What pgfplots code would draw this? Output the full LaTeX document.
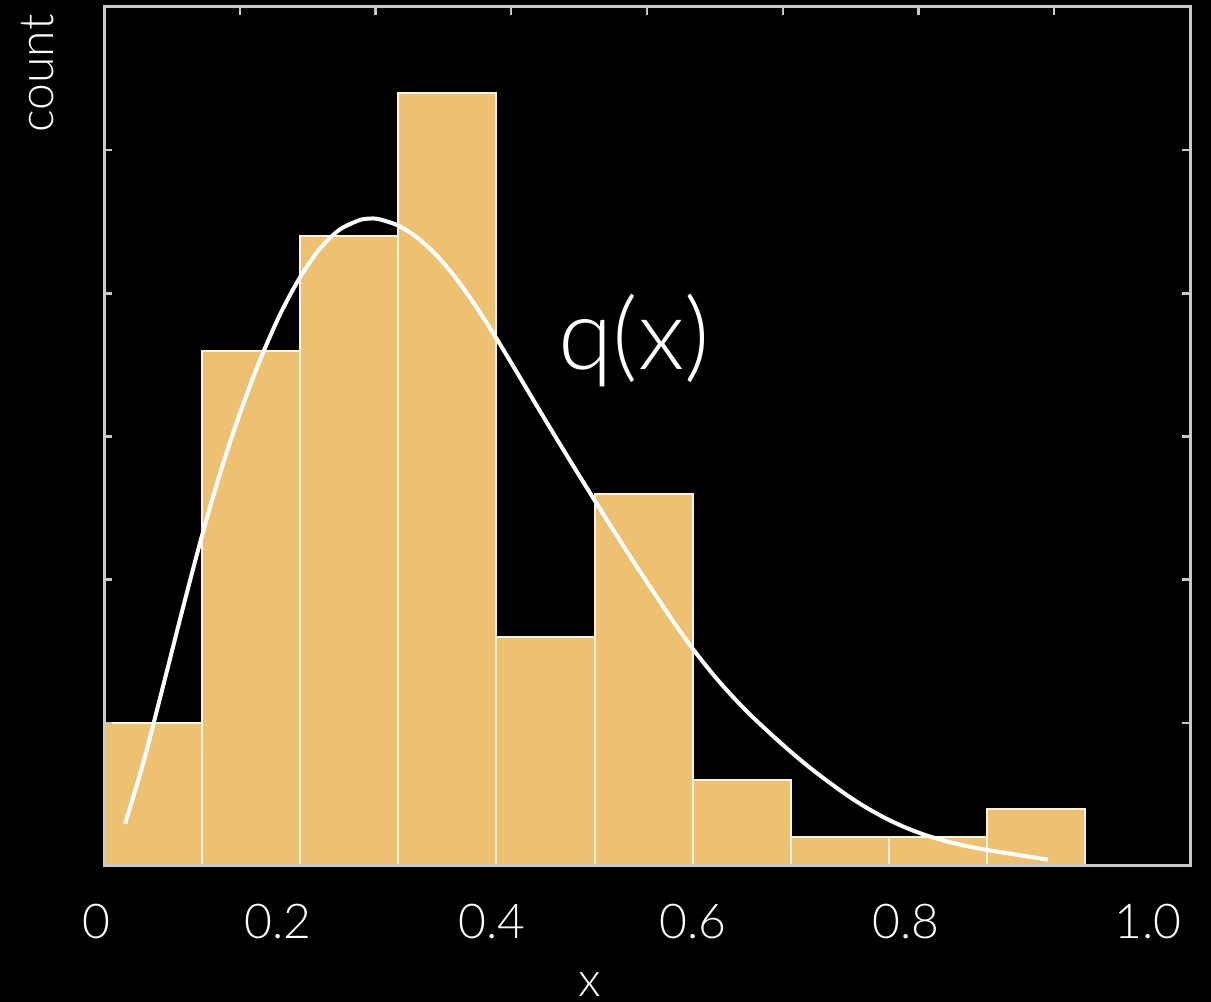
\documentclass[border=0pt]{standalone}
\usepackage{fontspec}
\setmainfont{Lato}[UprightFont={* Light}]
\usepackage{pgfplots}
\pgfplotsset{compat=1.18}
\definecolor{barfill}{HTML}{EDC171}
\definecolor{baredge}{HTML}{FFF3DC}
\definecolor{axisgray}{HTML}{C8C8C8}
\begin{document}
\begin{tikzpicture}
\useasboundingbox (0pt,0pt) rectangle (302.75pt,250.5pt);
\fill[black] (0pt,0pt) rectangle (302.75pt,250.5pt);
\begin{axis}[
  at={(26pt,34pt)}, anchor=south west,
  scale only axis, width=271.5pt, height=214.75pt,
  xmin=0, xmax=1.107, ymin=0, ymax=30,
  axis on top,
  axis line style={draw=axisgray, line width=0.75pt},
  tick align=inside,
  major tick length=2pt,
  every tick/.style={draw=axisgray, line width=0.6pt},
  xtick={0.1384,0.2768,0.4151,0.5535,0.6919,0.8303,0.9686},
  xtick pos=right,
  xticklabels={},
  ytick={5,10,15,20,25},
  yticklabels={},
  ytick pos=both,
]
\addplot[ybar interval, fill=barfill, draw=baredge, line width=0.5pt]
  coordinates {(0,5) (0.1,18) (0.2,22) (0.3,27) (0.4,8) (0.5,13) (0.6,3) (0.7,1) (0.8,1) (0.9,2) (1.0,2)};
\addplot[white, line width=1pt, smooth, mark=none] coordinates {
(0.0214,1.47) (0.04,3.60) (0.06,6.25) (0.08,8.95) (0.10,11.55)
(0.12,13.90) (0.14,15.95) (0.16,17.75) (0.18,19.30) (0.20,20.57)
(0.22,21.56) (0.24,22.22) (0.26,22.55) (0.27,22.61) (0.28,22.59)
(0.30,22.365) (0.32,21.925) (0.34,21.29) (0.36,20.47) (0.38,19.50)
(0.40,18.425) (0.42,17.29) (0.44,16.14) (0.46,15.00) (0.48,13.88)
(0.50,12.775) (0.52,11.685) (0.54,10.62) (0.56,9.575) (0.58,8.555)
(0.60,7.595) (0.62,6.725) (0.64,5.945) (0.66,5.24) (0.68,4.60)
(0.70,3.99) (0.72,3.42) (0.74,2.90) (0.76,2.41) (0.78,1.98)
(0.80,1.61) (0.82,1.30) (0.84,1.05) (0.86,0.85) (0.88,0.69)
(0.90,0.56) (0.92,0.45) (0.94,0.34) (0.9623,0.22)};
\end{axis}
\begin{scope}[every node/.style={text=white, inner sep=0pt, font=\fontsize{12}{14}\selectfont}]
\node[anchor=base] at (24.1pt,15.75pt) {0};
\node[anchor=base] at (69.5pt,15.75pt) {0.2};
\node[anchor=base] at (123pt,15.75pt) {0.4};
\node[anchor=base] at (173.25pt,15.75pt) {0.6};
\node[anchor=base] at (226.5pt,15.75pt) {0.8};
\node[anchor=base] at (287pt,15.75pt) {1.0};
\node[anchor=base] at (147.5pt,1.25pt) {x};
\node[anchor=base, rotate=90] at (13.25pt,232.1pt) {count};
\node[anchor=base, font=\fontsize{24.7}{28}\selectfont] at (158.5pt,158pt) {q(x)};
\end{scope}
\end{tikzpicture}
\end{document}
